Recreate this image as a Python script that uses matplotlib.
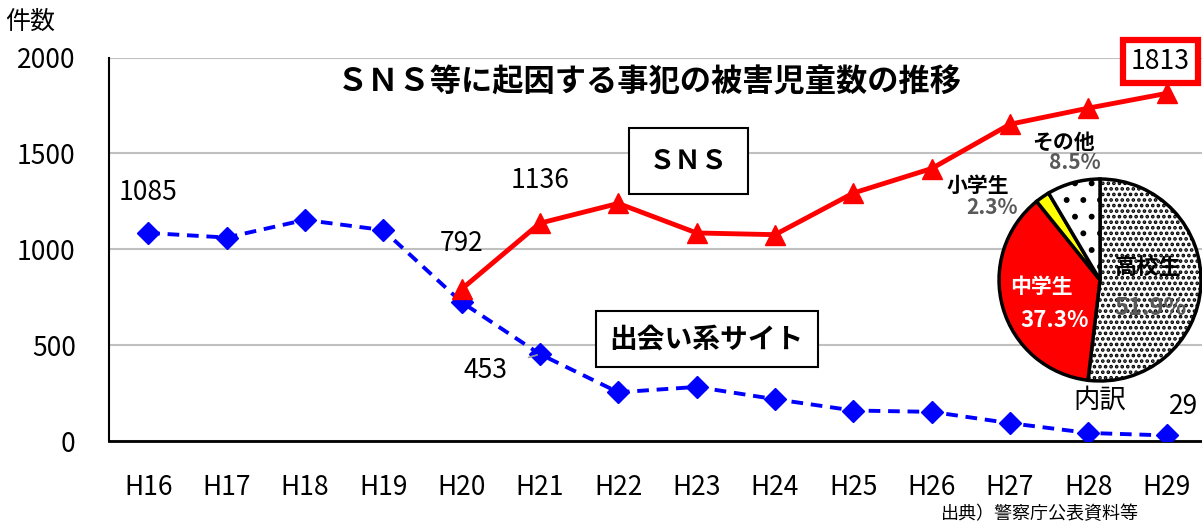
import matplotlib
matplotlib.use("Agg")
import matplotlib.pyplot as plt

plt.rcParams['font.family'] = ['Noto Sans CJK JP', 'DejaVu Sans']
plt.rcParams['hatch.linewidth'] = 1.8

# データ
years = ["H16", "H17", "H18", "H19", "H20", "H21", "H22", "H23", "H24", "H25", "H26", "H27", "H28", "H29"]
deai = [1085, 1061, 1153, 1100, 724, 453, 254, 282, 218, 159, 152, 93, 42, 29]
sns_years = ["H20", "H21", "H22", "H23", "H24", "H25", "H26", "H27", "H28", "H29"]
sns_vals = [792, 1136, 1239, 1085, 1076, 1293, 1421, 1652, 1736, 1813]

pie_labels = ["高校生", "中学生", "小学生", "その他"]
pie_vals = [51.9, 37.3, 2.3, 8.5]

x_all = list(range(len(years)))
x_sns = [years.index(y) for y in sns_years]

fig = plt.figure(figsize=(12.02, 5.26), dpi=100)
ax = fig.add_axes([109/1202, 85/526, 1 - 109/1202, (441 - 57.5)/526])

ax.plot(x_all, deai, color="blue", lw=2.8, ls=(0, (3, 2)), marker="D", ms=11, zorder=3)
ax.plot(x_sns, sns_vals, color="red", lw=3.5, marker="^", ms=15, zorder=4)

ax.set_xlim(-0.5, 13.45)
ax.set_ylim(0, 2000)
ax.set_yticks([0, 500, 1000, 1500, 2000])
ax.set_xticks(x_all)
ax.set_xticklabels(years)
ax.tick_params(axis="y", length=0, pad=24, labelsize=19)
ax.tick_params(axis="x", length=0, pad=24, labelsize=19)
ax.grid(axis="y", color="#c0c0c0", lw=1.5)
ax.set_axisbelow(True)
for s in ["top", "right"]:
    ax.spines[s].set_visible(False)
ax.spines["left"].set_linewidth(1.5)
ax.spines["bottom"].set_linewidth(2)

# データラベル
ax.text(0, deai[0] + 210, str(deai[0]), ha="center", va="center", fontsize=19)
ax.text(5, sns_vals[1] + 220, str(sns_vals[1]), ha="center", va="center", fontsize=19)
ax.text(4, sns_vals[0] + 240, str(sns_vals[0]), ha="center", va="center", fontsize=19)
ax.annotate(str(deai[5]), xy=(5, deai[5]), xytext=(4.3, 370), ha="center", va="center", fontsize=19,
            arrowprops=dict(arrowstyle="-", color="#a0a0a0", lw=1.2, shrinkA=14, shrinkB=2))
ax.text(13.22, deai[13] + 150, str(deai[13]), ha="center", va="center", fontsize=19)
ax.text(12.92, sns_vals[9] + 165, str(sns_vals[9]), ha="center", va="center", fontsize=19,
        bbox=dict(boxstyle="square,pad=0.3", fc="white", ec="red", lw=4.5))

# タイトル・凡例ボックス
ax.text(6.4, 1870, "ＳＮＳ等に起因する事犯の被害児童数の推移", ha="center", va="center",
        fontsize=22.5, fontweight="bold")
ax.text(6.9, 1460, "ＳＮＳ", ha="center", va="center", fontsize=19, fontweight="bold",
        bbox=dict(boxstyle="square,pad=0.75", fc="white", ec="black", lw=1.5))
ax.text(7.13, 530, "出会い系サイト", ha="center", va="center", fontsize=20, fontweight="bold",
        bbox=dict(boxstyle="square,pad=0.5", fc="white", ec="black", lw=1.5))

fig.text(5/1202, 1 - 22/526, "件数", ha="left", va="center", fontsize=18)
fig.text(1040/1202, 1 - 514/526, "出典）警察庁公表資料等", ha="center", va="center", fontsize=13)

# 内訳の円グラフ
r = 103
pax = fig.add_axes([(1100 - r)/1202, (526 - 280 - r)/526, 2*r/1202, 2*r/526])
wedges, _ = pax.pie(pie_vals, startangle=90, counterclock=False,
                    colors=["white", "red", "yellow", "white"],
                    wedgeprops=dict(edgecolor="black", lw=2.5))
wedges[0].set_hatch("...")
wedges[3].set_hatch(".")
pax.set_xlim(-1.02, 1.02)
pax.set_ylim(-1.02, 1.02)
pax.set_aspect("equal")
pax.axis("off")

pax.text(0.48, 0.12, "高校生", ha="center", va="center", fontsize=16, fontweight="bold")
pax.text(0.5, -0.28, "51.9%", ha="center", va="center", fontsize=17, fontweight="bold", color="#595959")
pax.text(-0.58, -0.06, "中学生", ha="center", va="center", fontsize=15, fontweight="bold", color="white")
pax.text(-0.45, -0.4, "37.3%", ha="center", va="center", fontsize=16, fontweight="bold", color="white")
fig.text(1063/1202, 1 - 142/526, "その他", ha="center", va="center", fontsize=15, fontweight="bold")
fig.text(1075/1202, 1 - 163/526, "8.5%", ha="center", va="center", fontsize=15, fontweight="bold", color="#595959")
fig.text(978/1202, 1 - 185/526, "小学生", ha="center", va="center", fontsize=15, fontweight="bold")
fig.text(992/1202, 1 - 207/526, "2.3%", ha="center", va="center", fontsize=15, fontweight="bold", color="#595959")
fig.text(1100/1202, 1 - 400/526, "内訳", ha="center", va="center", fontsize=19)

plt.savefig("out.png", dpi=100)
